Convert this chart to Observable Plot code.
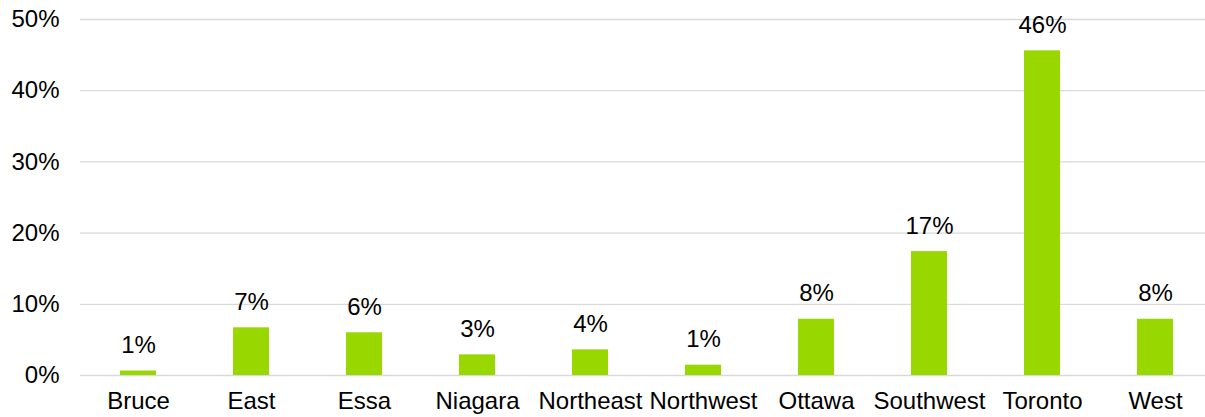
<!DOCTYPE html>
<html>
<head>
<meta charset="utf-8">
<script src="https://cdn.jsdelivr.net/npm/d3@7"></script>
<script src="https://cdn.jsdelivr.net/npm/@observablehq/plot@0.6"></script>
<style>
  html, body { margin: 0; padding: 0; background: #fff; }
  #chart svg { display: block; }
</style>
</head>
<body>
<div id="chart"></div>
<script>
const regions = ["Bruce", "East", "Essa", "Niagara", "Northeast", "Northwest", "Ottawa", "Southwest", "Toronto", "West"];
const shares = [0.63, 6.7, 6.0, 2.9, 3.6, 1.45, 7.9, 17.4, 45.6, 7.9];
const yTicks = [0, 10, 20, 30, 40, 50];

const data = regions.map((r, i) => ({region: r, share: shares[i]}));
const fmt = v => Math.round(v) + "%";

const chart = Plot.plot({
  width: 1205,
  height: 417,
  marginLeft: 80,
  marginRight: 0,
  marginTop: 19,
  marginBottom: 42,
  style: {fontFamily: "'Liberation Sans', Arial, sans-serif", fontSize: "24px", color: "#000", background: "#fff"},
  x: {domain: regions, range: [80.5, 1212.5], paddingInner: 0.68, paddingOuter: 0.34, label: null},
  y: {domain: [0, 50], label: null},
  marks: [
    Plot.gridY(yTicks, {stroke: "#d9d9d9", strokeOpacity: 1, strokeWidth: 1.3}),
    Plot.barY(data, {x: "region", y: "share", fill: "#99d700"}),
    Plot.text(data, {x: "region", y: "share", text: d => fmt(d.share), lineAnchor: "bottom", dy: -18, fontSize: 24, fill: "#000"}),
    Plot.axisY(yTicks, {tickSize: 0, tickPadding: 21, tickFormat: d => d + "%", fontSize: 24, label: null}),
    Plot.axisX({tickSize: 0, tickPadding: 16, fontSize: 24, label: null})
  ]
});
document.getElementById("chart").appendChild(chart);
</script>
</body>
</html>
